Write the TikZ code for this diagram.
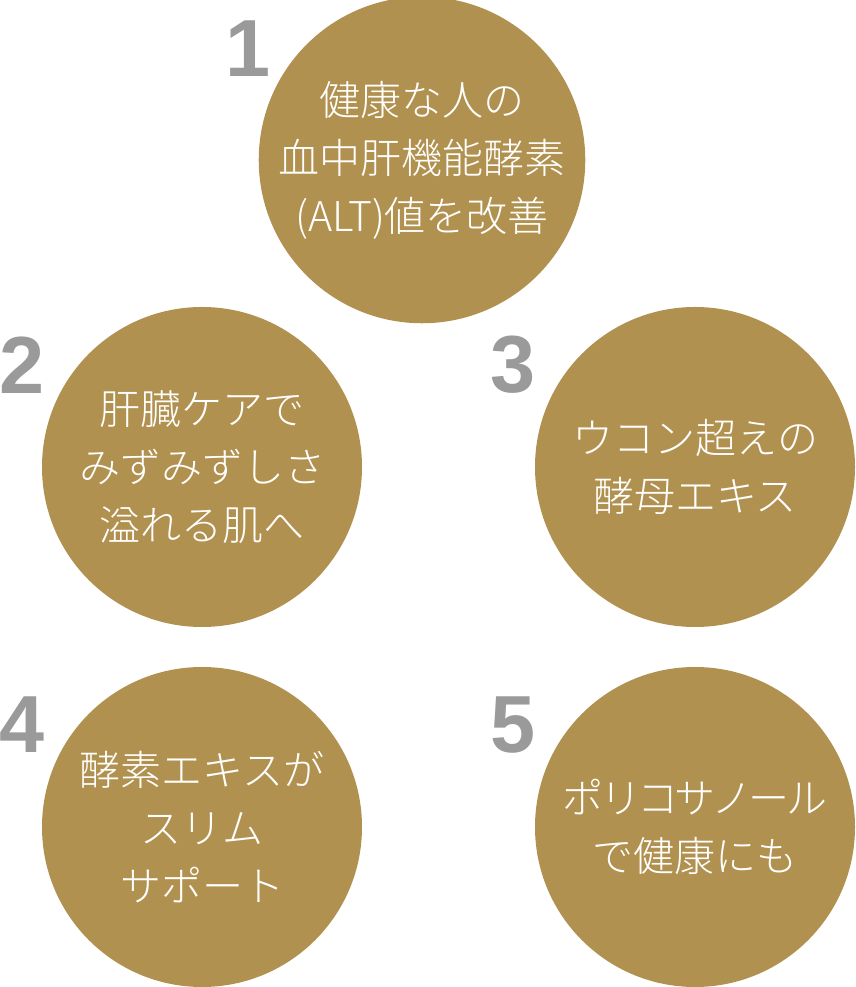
\documentclass[tikz,border=0pt]{standalone}
\usepackage{fontspec}
\newfontfamily\jpfont{Noto Sans CJK JP Light}
\newfontfamily\numfont{Liberation Sans}
\usetikzlibrary{positioning}
\definecolor{oro}{HTML}{B1914F}
\definecolor{gris}{HTML}{9A9A9A}

\tikzset{
  bola/.style={circle, fill=oro, minimum size=320pt, inner sep=0pt,
    text=white, align=center, font=\jpfont\fontsize{41}{58}\selectfont},
  numero/.style={text=gris, inner sep=0pt,
    font=\numfont\bfseries\fontsize{81}{81}\selectfont},
}

\begin{document}
\begin{tikzpicture}[x=1pt, y=1pt]
  \useasboundingbox (0,0) rectangle (855,987);
  % circulos
  \node[bola] (c1) at (422,827) {健康な人の\\血中肝機能酵素\\(ALT)値を改善};
  \node[bola] (c2) at (202,520) {肝臓ケアで\\みずみずしさ\\溢れる肌へ};
  \node[bola] (c3) at (695,520) {ウコン超えの\\酵母エキス};
  \node[bola] (c4) at (202,160) {酵素エキスが\\スリム\\サポート};
  \node[bola] (c5) at (695,160) {{\addfontfeatures{LetterSpace=-9}ポリコサノール}\\で健康にも};
  % numeros
  \node[numero] (n1) at (248,938) {1};
  \node[numero] (n2) at (22,622) {2};
  \node[numero] (n3) at (513,622) {3};
  \node[numero] (n4) at (22,262) {4};
  \node[numero] (n5) at (513,262) {5};
\end{tikzpicture}
\end{document}
